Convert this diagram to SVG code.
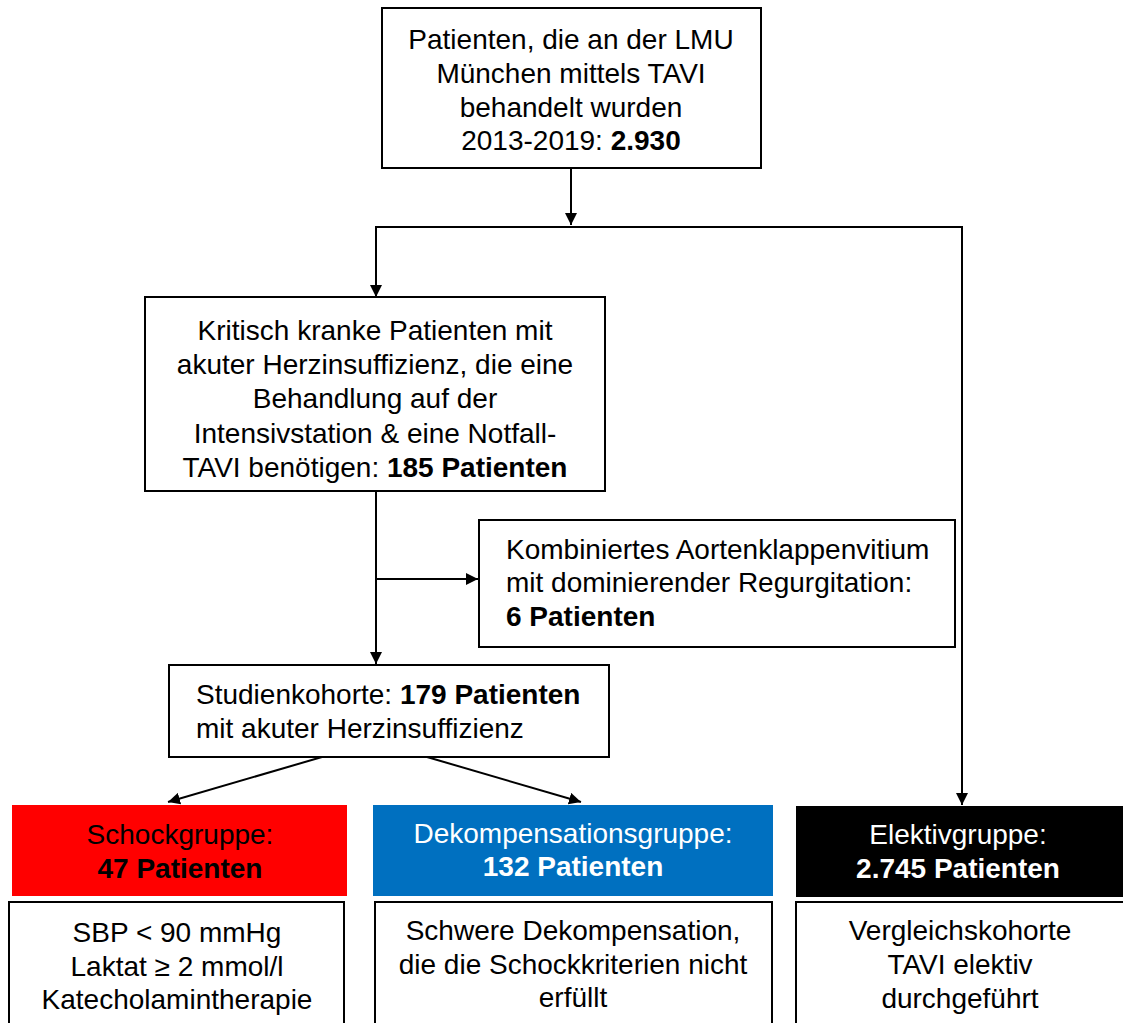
<svg xmlns="http://www.w3.org/2000/svg" width="1123" height="1023" viewBox="0 0 1123 1023">
<style>
text{font-family:"Liberation Sans",Arial,sans-serif;font-size:28px;fill:#000}
.c{text-anchor:middle}
.b{font-weight:bold}
.w{fill:#fff}
.box{fill:#fff;stroke:#000;stroke-width:2}
.ln{fill:none;stroke:#000;stroke-width:2}
</style>
<defs>
<marker id="ah" viewBox="0 0 10 10" refX="10" refY="5" markerWidth="6" markerHeight="6" markerUnits="strokeWidth" orient="auto">
<path d="M0,0 L10,5 L0,10 z" fill="#000"/>
</marker>
</defs>
<g id="connectors">
<line class="ln" x1="571" y1="168" x2="571" y2="225" marker-end="url(#ah)"/>
<polyline class="ln" points="376,297 376,227 962,227"/>
<line class="ln" x1="376" y1="227" x2="376" y2="297" marker-end="url(#ah)"/>
<line class="ln" x1="962" y1="226" x2="962" y2="805" marker-end="url(#ah)"/>
<line class="ln" x1="376" y1="491" x2="376" y2="664" marker-end="url(#ah)"/>
<line class="ln" x1="376" y1="579" x2="478" y2="579" marker-end="url(#ah)"/>
<line class="ln" x1="322" y1="757" x2="168" y2="802" marker-end="url(#ah)"/>
<line class="ln" x1="427" y1="757" x2="581" y2="802" marker-end="url(#ah)"/>
</g>
<g id="top">
<rect class="box" x="382" y="8" width="379" height="160"/>
<text class="c" x="571" y="49">Patienten, die an der LMU</text>
<text class="c" x="571" y="83">München mittels TAVI</text>
<text class="c" x="571" y="117">behandelt wurden</text>
<text class="c" x="571" y="150">2013-2019: <tspan class="b">2.930</tspan></text>
</g>
<g id="kritisch">
<rect class="box" x="145" y="297" width="460" height="194"/>
<text class="c" x="375" y="340">Kritisch kranke Patienten mit</text>
<text class="c" x="375" y="374">akuter Herzinsuffizienz, die eine</text>
<text class="c" x="375" y="408">Behandlung auf der</text>
<text class="c" x="375" y="443">Intensivstation &amp; eine Notfall-</text>
<text class="c" x="375" y="477">TAVI benötigen: <tspan class="b">185 Patienten</tspan></text>
</g>
<g id="kombiniert">
<rect class="box" x="479" y="520" width="476" height="127"/>
<text x="506" y="559">Kombiniertes Aortenklappenvitium</text>
<text x="506" y="592">mit dominierender Regurgitation:</text>
<text class="b" x="506" y="626">6 Patienten</text>
</g>
<g id="studie">
<rect class="box" x="169" y="665" width="440" height="92"/>
<text x="196" y="704">Studienkohorte: <tspan class="b">179 Patienten</tspan></text>
<text x="196" y="738">mit akuter Herzinsuffizienz</text>
</g>
<g id="schock">
<rect x="12" y="805" width="335" height="91" fill="#ff0000"/>
<text class="c" x="180" y="844">Schockgruppe:</text>
<text class="c b" x="180" y="878">47 Patienten</text>
</g>
<g id="schock-info">
<rect class="box" x="9" y="902" width="335" height="140"/>
<text class="c" x="177" y="942">SBP &lt; 90 mmHg</text>
<text class="c" x="177" y="976">Laktat ≥ 2 mmol/l</text>
<text class="c" x="177" y="1009">Katecholamintherapie</text>
</g>
<g id="dekomp">
<rect x="373" y="805" width="400" height="91" fill="#0070c0"/>
<text class="c w" x="573" y="843">Dekompensationsgruppe:</text>
<text class="c b w" x="573" y="876">132 Patienten</text>
</g>
<g id="dekomp-info">
<rect class="box" x="375" y="902" width="397" height="140"/>
<text class="c" x="573" y="940">Schwere Dekompensation,</text>
<text class="c" x="573" y="974">die die Schockkriterien nicht</text>
<text class="c" x="573" y="1007">erfüllt</text>
</g>
<g id="elektiv">
<rect x="796" y="806" width="330" height="91" fill="#000"/>
<text class="c w" x="958" y="844">Elektivgruppe:</text>
<text class="c b w" x="958" y="878">2.745 Patienten</text>
</g>
<g id="elektiv-info">
<rect class="box" x="796" y="902" width="330" height="140"/>
<text class="c" x="960" y="940">Vergleichskohorte</text>
<text class="c" x="960" y="974">TAVI elektiv</text>
<text class="c" x="960" y="1008">durchgeführt</text>
</g>
</svg>
